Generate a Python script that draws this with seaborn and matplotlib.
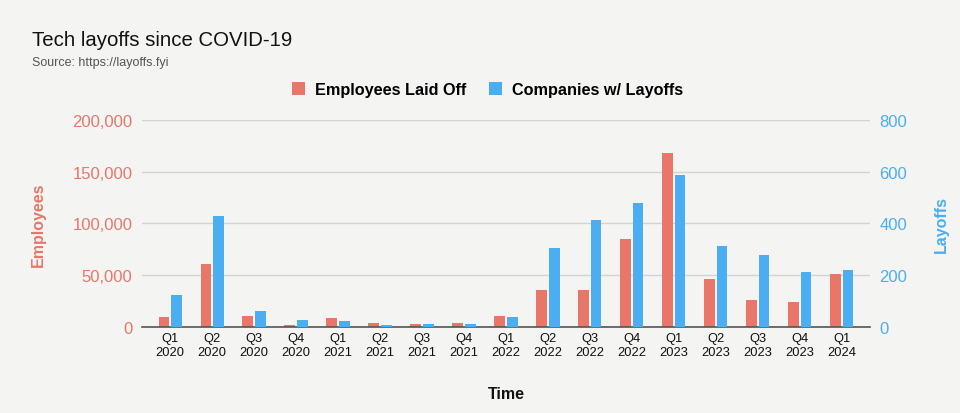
import matplotlib
matplotlib.use('Agg')
import matplotlib.pyplot as plt
from matplotlib.patches import Patch
from matplotlib.ticker import FuncFormatter
import pandas as pd
import seaborn as sns

# Data
quarters = ['Q1\n2020', 'Q2\n2020', 'Q3\n2020', 'Q4\n2020',
            'Q1\n2021', 'Q2\n2021', 'Q3\n2021', 'Q4\n2021',
            'Q1\n2022', 'Q2\n2022', 'Q3\n2022', 'Q4\n2022',
            'Q1\n2023', 'Q2\n2023', 'Q3\n2023', 'Q4\n2023',
            'Q1\n2024']
employees_laid_off = [9600, 60500, 10600, 1900, 8700, 3600, 2900, 3600,
                      10600, 35800, 35800, 85000, 167600, 46700, 25700, 23800,
                      50900]
companies_with_layoffs = [122, 430, 63, 27, 23, 8, 10, 10,
                          39, 304, 413, 477, 586, 313, 276, 213,
                          221]

EMP = 'Employees Laid Off'
COMP = 'Companies w/ Layoffs'
RED = '#E8776A'
BLUE = '#4BAEF3'
BG = '#F4F4F2'

# long table: each series gets its own hue level so the bars dodge side by side
n = len(quarters)
df = pd.DataFrame({
    'quarter': quarters * 2,
    'series': [EMP] * n + [COMP] * n,
    'employees': employees_laid_off + [float('nan')] * n,
    'companies': [float('nan')] * n + companies_with_layoffs,
})

plt.rcParams['font.family'] = ['Liberation Sans', 'DejaVu Sans']

fig = plt.figure(figsize=(9.6, 4.14), dpi=100, facecolor=BG)
ax = fig.add_axes([0.148, 0.208, 0.758, 0.500])
ax.set_facecolor(BG)
ax2 = ax.twinx()

palette = {EMP: RED, COMP: BLUE}
sns.barplot(data=df, x='quarter', y='employees', hue='series',
            hue_order=[EMP, COMP], palette=palette, width=0.6, gap=0.15,
            saturation=1, legend=False, ax=ax, errorbar=None)
sns.barplot(data=df, x='quarter', y='companies', hue='series',
            hue_order=[EMP, COMP], palette=palette, width=0.6, gap=0.15,
            saturation=1, legend=False, ax=ax2, errorbar=None)

ax.set_ylim(0, 200000)
ax2.set_ylim(0, 800)
ax.set_yticks([0, 50000, 100000, 150000, 200000])
ax2.set_yticks([0, 200, 400, 600, 800])
ax.yaxis.set_major_formatter(FuncFormatter(lambda v, p: f'{int(v):,}'))
ax.set_xlim(-0.67, n - 1 + 0.67)

ax.grid(axis='y', color='#D3D3D3', linewidth=1)
ax.grid(axis='x', visible=False)
ax.set_axisbelow(True)
ax2.grid(False)

for a in (ax, ax2):
    for s in a.spines.values():
        s.set_visible(False)
ax.spines['bottom'].set_visible(True)
ax.spines['bottom'].set_color('#555555')
ax.spines['bottom'].set_linewidth(1.2)
ax.spines['bottom'].set_zorder(5)

ax.tick_params(axis='y', length=0, pad=7, labelsize=12, labelcolor=RED)
ax2.tick_params(axis='y', length=0, pad=7, labelsize=12, labelcolor=BLUE)
ax.tick_params(axis='x', length=0, pad=4, labelsize=9.3, labelcolor='#111111')

ax.set_xlabel('Time', fontsize=11.5, fontweight='bold', labelpad=20, color='#111111')
ax.set_ylabel('Employees', fontsize=11.5, fontweight='bold', color=RED, labelpad=19)
ax2.set_ylabel('Layoffs', fontsize=11.5, fontweight='bold', color=BLUE, labelpad=19)

fig.text(0.033, 0.889, 'Tech layoffs since COVID-19', fontsize=14.7, color='#111111')
fig.text(0.033, 0.840, 'Source: https://layoffs.fyi', fontsize=9, color='#555555')

handles = [Patch(facecolor=RED, label=EMP), Patch(facecolor=BLUE, label=COMP)]
fig.legend(handles=handles, loc='center', bbox_to_anchor=(0.508, 0.781), ncol=2,
           frameon=False, prop={'weight': 'bold', 'size': 11.7},
           handlelength=0.8, handleheight=0.8, handletextpad=0.6, columnspacing=1.4)

fig.savefig('out.png', dpi=100, facecolor=BG)
